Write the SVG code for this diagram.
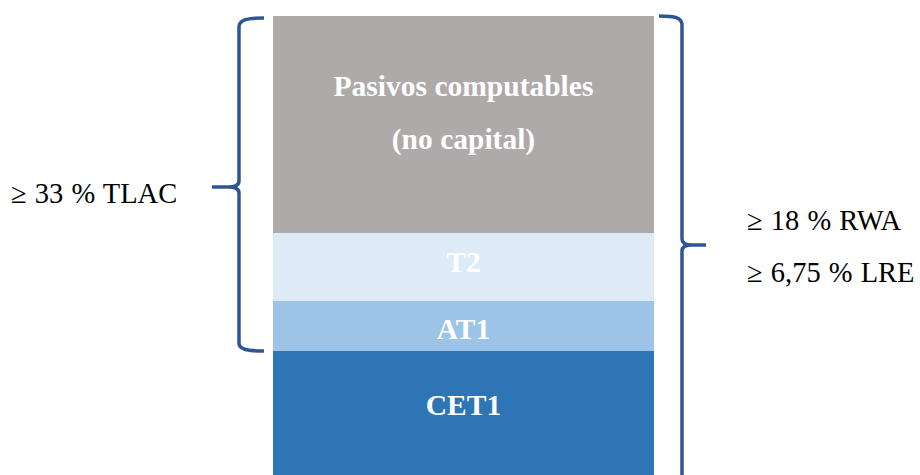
<svg xmlns="http://www.w3.org/2000/svg" width="920" height="475" viewBox="0 0 920 475">
  <style>
    .lbl { font-family: "Liberation Serif", "Times New Roman", serif; font-weight: bold; font-size: 29.5px; fill: #ffffff; text-anchor: middle; }
    .side { font-family: "Liberation Serif", "Times New Roman", serif; font-size: 28.5px; fill: #000000; word-spacing: 1px; }
    .brace { fill: none; stroke: #2F5597; stroke-width: 3.5; stroke-linecap: butt; stroke-linejoin: round; }
  </style>
  <rect width="920" height="475" fill="#ffffff"/>

  <g id="pasivos">
    <rect x="273" y="16" width="381" height="217" fill="#AEAAAA"/>
    <text class="lbl" x="463.5" y="96">Pasivos computables</text>
    <text class="lbl" x="463.5" y="149">(no capital)</text>
  </g>
  <g id="t2">
    <rect x="273" y="233" width="381" height="68" fill="#DEEAF6"/>
    <text class="lbl" x="463.5" y="272">T2</text>
  </g>
  <g id="at1">
    <rect x="273" y="301" width="381" height="50" fill="#9DC3E6"/>
    <text class="lbl" x="463.5" y="339">AT1</text>
  </g>
  <g id="cet1">
    <rect x="273" y="351" width="381" height="124" fill="#2E75B6"/>
    <text class="lbl" x="463.5" y="415">CET1</text>
  </g>

  <g id="connectors">
    <path class="brace" d="M264,18 C246,18 239,20 239,27 L239,181 Q239,187 228,187 L212,187 M228,187 Q239,187 239,193 L239,343 C239,349 246,351 264,351"/>
    <path class="brace" d="M659,16 C676,16 682,18 682,25 L682,239 Q682,245 692,245 L706,245 M692,245 Q682,245 682,251 L682,480"/>
  </g>

  <g id="tlac">
    <text class="side" x="11" y="203">≥ 33 % TLAC</text>
  </g>
  <g id="rwa-lre">
    <text class="side" x="747" y="230">≥ 18 % RWA</text>
    <text class="side" x="747" y="282">≥ 6,75 % LRE</text>
  </g>
</svg>
